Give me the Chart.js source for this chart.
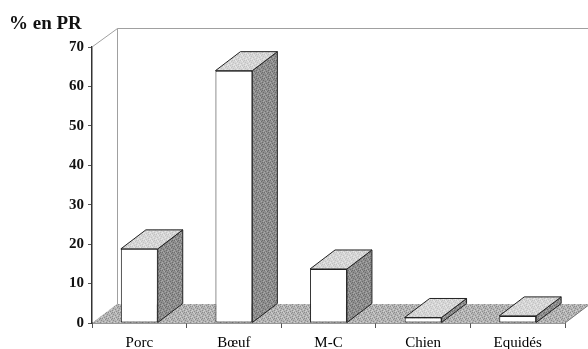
<!DOCTYPE html>
<html>
<head>
<meta charset="utf-8">
<script src="https://cdn.jsdelivr.net/npm/chart.js@4.4.1/dist/chart.umd.min.js"></script>
<style>
  html, body { margin: 0; padding: 0; background: #fff; }
  #wrap { width: 588px; height: 349px; }
</style>
</head>
<body>
<div id="wrap"><canvas id="c" width="588" height="349"></canvas></div>
<script>
// Share of remains (% en PR) by animal group
const categories = ['Porc', 'Bœuf', 'M-C', 'Chien', 'Equidés'];
const percentPR = [18.8, 64.0, 13.7, 1.4, 1.8];
const yTickValues = [0, 10, 20, 30, 40, 50, 60, 70];
const axisTitle = '% en PR';

// Perspective offset of the depth faces (px)
const DX = 25, DY = -19;
const SERIF = "'Liberation Serif', 'Times New Roman', serif";

// Small repeating grain used for the shaded faces
function stipple(base, dark, light) {
  const c = document.createElement('canvas');
  c.width = 6; c.height = 6;
  const g = c.getContext('2d');
  g.fillStyle = base; g.fillRect(0, 0, 6, 6);
  g.fillStyle = dark;
  [[0,0],[3,1],[1,3],[4,4],[5,2],[2,5],[4,0]].forEach(([i, j]) => g.fillRect(i, j, 1, 1));
  g.fillStyle = light;
  [[2,1],[5,5],[0,4],[3,3],[1,0]].forEach(([i, j]) => g.fillRect(i, j, 1, 1));
  return g.createPattern(c, 'repeat');
}

const ctx0 = document.getElementById('c').getContext('2d');
const floorFill = stipple('#b4b4b4', '#8c8c8c', '#d0d0d0');
const sideFill = stipple('#8e8e8e', '#6c6c6c', '#aaaaaa');
const topFill = stipple('#d6d6d6', '#c2c2c2', '#e8e8e8');

const depthPlugin = {
  id: 'depth3d',
  beforeDatasetsDraw(chart) {
    const { ctx, chartArea: a, scales: { x, y } } = chart;
    const y0 = y.getPixelForValue(0);
    ctx.save();
    // floor
    ctx.beginPath();
    ctx.moveTo(x.left, y0);
    ctx.lineTo(x.right, y0);
    ctx.lineTo(x.right + DX, y0 + DY);
    ctx.lineTo(x.left + DX, y0 + DY);
    ctx.closePath();
    ctx.fillStyle = floorFill;
    ctx.fill();
    ctx.strokeStyle = '#777';
    ctx.lineWidth = 1;
    ctx.beginPath();
    ctx.moveTo(x.right, y0);
    ctx.lineTo(x.right + DX, y0 + DY);
    ctx.stroke();
    // back wall edges
    ctx.strokeStyle = '#a0a0a0';
    ctx.beginPath();
    ctx.moveTo(a.left, a.top);
    ctx.lineTo(a.left + DX + 0.5, a.top + DY + 0.5);
    ctx.lineTo(chart.width, a.top + DY + 0.5);
    ctx.moveTo(a.left + DX + 0.5, a.top + DY + 0.5);
    ctx.lineTo(a.left + DX + 0.5, y0 + DY);
    ctx.stroke();
    ctx.restore();
  },
  afterDatasetsDraw(chart) {
    const { ctx } = chart;
    const meta = chart.getDatasetMeta(0);
    ctx.save();
    ctx.strokeStyle = '#222';
    ctx.lineWidth = 1;
    ctx.lineJoin = 'round';
    meta.data.forEach(bar => {
      const L = bar.x - bar.width / 2, R = bar.x + bar.width / 2;
      const T = bar.y, B = bar.base;
      // side face
      ctx.beginPath();
      ctx.moveTo(R, T);
      ctx.lineTo(R + DX, T + DY);
      ctx.lineTo(R + DX, B + DY);
      ctx.lineTo(R, B);
      ctx.closePath();
      ctx.fillStyle = sideFill;
      ctx.fill();
      ctx.stroke();
      // top face
      ctx.beginPath();
      ctx.moveTo(L, T);
      ctx.lineTo(L + DX, T + DY);
      ctx.lineTo(R + DX, T + DY);
      ctx.lineTo(R, T);
      ctx.closePath();
      ctx.fillStyle = topFill;
      ctx.fill();
      ctx.stroke();
    });
    ctx.restore();
  }
};

new Chart(ctx0, {
  type: 'bar',
  data: {
    labels: categories,
    datasets: [{
      data: percentPR,
      backgroundColor: '#ffffff',
      borderColor: '#222',
      borderWidth: 1,
      borderSkipped: false,
      barPercentage: 0.39,
      categoryPercentage: 1.0
    }]
  },
  options: {
    responsive: false,
    animation: false,
    events: [],
    layout: { padding: { left: 9, right: 23, top: 0, bottom: 0 } },
    plugins: {
      legend: { display: false },
      tooltip: { enabled: false },
      title: {
        display: true,
        text: axisTitle,
        align: 'start',
        color: '#111',
        font: { family: SERIF, size: 19, weight: 'bold', lineHeight: 1.2 },
        padding: { top: 13, bottom: 11.2 }
      }
    },
    scales: {
      x: {
        z: 1,
        grid: { drawOnChartArea: false, drawTicks: true, tickLength: 5, color: '#555', offset: true },
        border: { display: true, color: '#333', width: 1.5 },
        ticks: { color: '#000', padding: 6, font: { family: SERIF, size: 15 } },
        afterFit(s) { s.height = 26; }
      },
      y: {
        z: 1,
        min: 0,
        max: 70,
        afterBuildTicks(s) { s.ticks = yTickValues.map(v => ({ value: v })); },
        grid: { drawOnChartArea: false, drawTicks: true, tickLength: 4, color: '#555' },
        border: { display: true, color: '#333', width: 1.5 },
        ticks: { color: '#111', padding: 4, font: { family: SERIF, size: 15, weight: 'bold' } },
        afterFit(s) { s.width = 83; }
      }
    }
  },
  plugins: [depthPlugin]
});
</script>
</body>
</html>
